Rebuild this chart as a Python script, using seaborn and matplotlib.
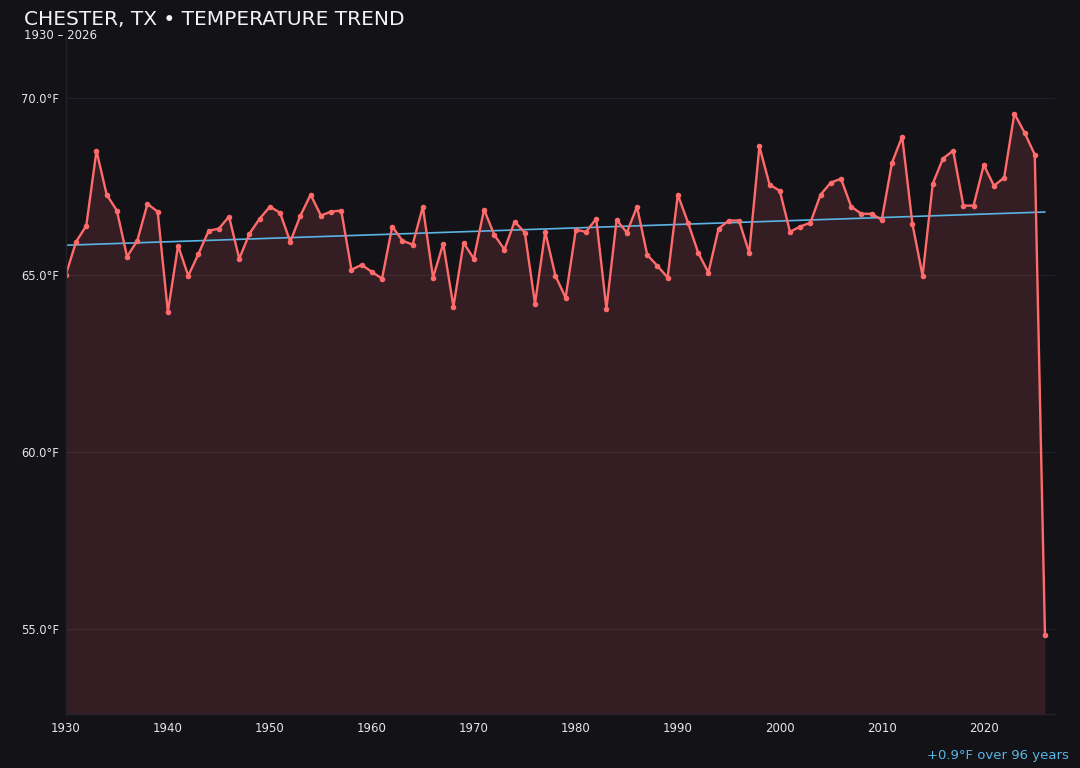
import numpy as np
import pandas as pd
import matplotlib
matplotlib.use("Agg")
import matplotlib.pyplot as plt
import seaborn as sns

# yearly mean temperature
years = list(range(1930, 2027))
temps = [
    65.00, 65.93, 66.38, 68.50, 67.26, 66.81, 65.51, 65.96, 67.00, 66.78,  # 1930s
    63.95, 65.82, 64.97, 65.59, 66.24, 66.30, 66.64, 65.45, 66.16, 66.58,  # 1940s
    66.92, 66.75, 65.93, 66.67, 67.26, 66.67, 66.78, 66.81, 65.14, 65.28,  # 1950s
    65.08, 64.89, 66.36, 65.96, 65.85, 66.92, 64.92, 65.88, 64.10, 65.90,  # 1960s
    65.45, 66.84, 66.13, 65.71, 66.50, 66.19, 64.18, 66.21, 64.97, 64.35,  # 1970s
    66.27, 66.21, 66.58, 64.04, 66.55, 66.19, 66.92, 65.56, 65.25, 64.92,  # 1980s
    67.26, 66.47, 65.62, 65.06, 66.30, 66.53, 66.53, 65.62, 68.62, 67.54,  # 1990s
    67.37, 66.21, 66.36, 66.47, 67.26, 67.60, 67.71, 66.92, 66.72, 66.72,  # 2000s
    66.55, 68.16, 68.90, 66.44, 64.97, 67.57, 68.28, 68.50, 66.95, 66.95,  # 2010s
    68.10, 67.51, 67.74, 69.55, 69.01, 68.39, 54.83,                       # 2020s
]
y_ticks = [55.0, 60.0, 65.0, 70.0]
x_ticks = [1930, 1940, 1950, 1960, 1970, 1980, 1990, 2000, 2010, 2020]

BG = '#131217'
LINE = '#ff6b6b'
TREND = '#5ab4e5'
TEXT = '#e6e6e6'

df = pd.DataFrame({'year': years, 'temp': temps})

# linear trend over the whole record
slope, intercept = np.polyfit(df['year'], df['temp'], 1)
df['trend'] = slope * df['year'] + intercept
change = slope * (years[-1] - years[0])

sns.set_theme(style='dark')
plt.rcParams['font.family'] = ['DejaVu Sans']

fig = plt.figure(figsize=(10.8, 7.68), dpi=100, facecolor=BG)
ax = fig.add_axes([0.061, 0.0703, 0.916, 0.882], facecolor=BG)

ylo, yhi = 52.6, 71.72
ax.fill_between(df['year'], df['temp'], ylo, color=LINE, alpha=0.145, linewidth=0)
sns.lineplot(data=df, x='year', y='trend', ax=ax, color=TREND, linewidth=1.2)
sns.lineplot(data=df, x='year', y='temp', ax=ax, color=LINE, linewidth=1.7,
             marker='o', markersize=4, markeredgewidth=0)

ax.set_xlim(1930, 2027)
ax.set_ylim(ylo, yhi)
ax.set_xticks(x_ticks)
ax.set_yticks(y_ticks)
ax.set_yticklabels([f'{t:.1f}°F' for t in y_ticks])
ax.set_xlabel('')
ax.set_ylabel('')
ax.tick_params(axis='y', colors=TEXT, labelsize=8.3, length=3, width=0.8,
               color='#2a2a33', pad=2)
ax.tick_params(axis='x', colors=TEXT, labelsize=8.5, length=3, width=0.8,
               color='#2a2a33', pad=3)
ax.grid(axis='y', color='#24202a', linewidth=0.8)
ax.grid(axis='x', visible=False)
for side in ['top', 'right']:
    ax.spines[side].set_visible(False)
for side in ['left', 'bottom']:
    ax.spines[side].set_visible(True)
    ax.spines[side].set_color('#24232b')
    ax.spines[side].set_linewidth(1.0)

fig.text(0.022, 0.974, 'CHESTER, TX • TEMPERATURE TREND', color='#f2f2f2',
         fontsize=14.5, ha='left', va='center')
fig.text(0.022, 0.954, f'{years[0]} – {years[-1]}', color=TEXT,
         fontsize=8.5, ha='left', va='center')
fig.text(0.990, 0.016, f'{change:+.1f}°F over {years[-1] - years[0]} years',
         color=TREND, fontsize=9.5, ha='right', va='center')

fig.savefig('out.png', dpi=100, facecolor=BG)
